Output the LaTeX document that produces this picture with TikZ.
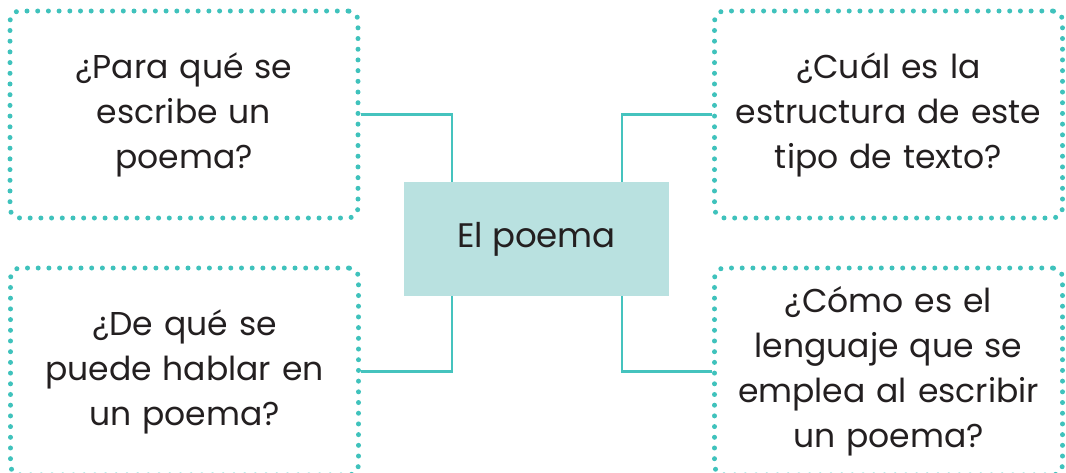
\documentclass[tikz,border=0pt]{standalone}
\usepackage{fontspec}
\setmainfont{Poppins}
\definecolor{punto}{HTML}{3FC2BC}
\definecolor{linea}{HTML}{45C3BE}
\definecolor{fondo}{HTML}{B9E1E0}
\definecolor{tinta}{HTML}{231F20}
\begin{document}
\begin{tikzpicture}[x=1pt,y=-1pt,
  pregunta/.style={draw=punto, line width=5pt, dash pattern=on 0pt off 10.7pt,
    line cap=round, rounded corners=10pt, minimum width=348pt, minimum height=207pt,
    text width=340pt, align=center, inner sep=0pt, text=tinta,
    font=\fontsize{33}{45}\selectfont},
  tema/.style={fill=fondo, minimum width=265pt, minimum height=114pt, inner sep=0pt,
    text=tinta, font=\fontsize{34}{40}\selectfont},
  enlace/.style={draw=linea, line width=2.5pt}]
\useasboundingbox (0,0) rectangle (1066,472);
\clip (0,0) rectangle (1066,472);

% Centro
\node[tema] (poema) at (536.5,239) {\raisebox{-3pt}{El poema}};

% Preguntas
\node[pregunta] (para) at (184,114.5) {¿Para qué se\\escribe un\\poema?};
\node[pregunta] (estructura) at (888.5,114.5) {¿Cuál es la\\estructura de este\\tipo de texto?};
\node[pregunta] (hablar) at (184.5,371.5) {¿De qué se\\puede hablar en\\un poema?};
\node[pregunta] (lenguaje) at (888.5,371.5) {¿Cómo es el\\lenguaje que se\\emplea al escribir\\un poema?};

% Enlaces
\draw[enlace] (para.east) -| ([xshift=48pt]poema.north west);
\draw[enlace] (estructura.west) -| ([xshift=-47pt]poema.north east);
\draw[enlace] (hablar.east) -| ([xshift=48pt]poema.south west);
\draw[enlace] (lenguaje.west) -| ([xshift=-47pt]poema.south east);
\end{tikzpicture}
\end{document}
